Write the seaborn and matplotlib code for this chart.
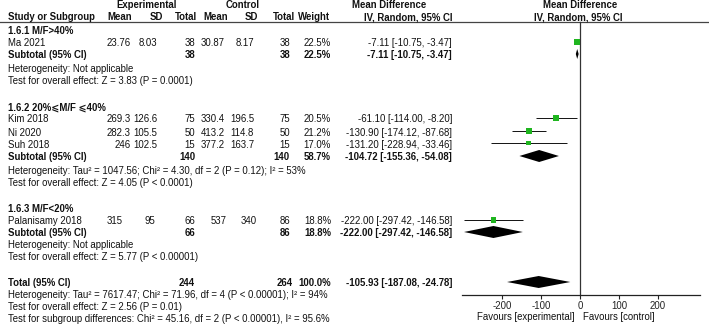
import matplotlib
matplotlib.use("Agg")
import matplotlib.pyplot as plt
import seaborn as sns
import pandas as pd

# ---- data ----
studies = ["Ma 2021", "Kim 2018", "Ni 2020", "Suh 2018", "Palanisamy 2018"]
groups = ["1.6.1 M/F>40%", "1.6.2 20%\u2a7dM/F \u2a7d40%", "1.6.3 M/F<20%"]
exp_mean = [23.76, 269.3, 282.3, 246, 315]
exp_sd = [8.03, 126.6, 105.5, 102.5, 95]
exp_n = [38, 75, 50, 15, 66]
ctl_mean = [30.87, 330.4, 413.2, 377.2, 537]
ctl_sd = [8.17, 196.5, 114.8, 163.7, 340]
ctl_n = [38, 75, 50, 15, 86]
weight = [22.5, 20.5, 21.2, 17.0, 18.8]
md = [-7.11, -61.10, -130.90, -131.20, -222.00]
md_lo = [-10.75, -114.00, -174.12, -228.94, -297.42]
md_hi = [-3.47, -8.20, -87.68, -33.46, -146.58]

sub_exp_n = [38, 140, 66]
sub_ctl_n = [38, 140, 86]
sub_weight = [22.5, 58.7, 18.8]
sub_md = [-7.11, -104.72, -222.00]
sub_lo = [-10.75, -155.36, -297.42]
sub_hi = [-3.47, -54.08, -146.58]
sub_het = ["Heterogeneity: Not applicable",
           "Heterogeneity: Tau\u00b2 = 1047.56; Chi\u00b2 = 4.30, df = 2 (P = 0.12); I\u00b2 = 53%",
           "Heterogeneity: Not applicable"]
sub_test = ["Test for overall effect: Z = 3.83 (P = 0.0001)",
            "Test for overall effect: Z = 4.05 (P < 0.0001)",
            "Test for overall effect: Z = 5.77 (P < 0.00001)"]

total_n = [244, 264]
total_md, total_lo, total_hi = -105.93, -187.08, -24.78
total_notes = ["Heterogeneity: Tau\u00b2 = 7617.47; Chi\u00b2 = 71.96, df = 4 (P < 0.00001); I\u00b2 = 94%",
               "Test for overall effect: Z = 2.56 (P = 0.01)",
               "Test for subgroup differences: Chi\u00b2 = 45.16, df = 2 (P < 0.00001), I\u00b2 = 95.6%"]
ticks = [-200, -100, 0, 100, 200]

# ---- layout (pixels) ----
W, H = 709, 328
fs = 6.9
fam = ["Liberation Sans", "DejaVu Sans"]
green = "#1fb51f"
group_y = [30, 107, 209]
study_y = [43, 119, 132, 144, 221]
sub_y = [55, 157, 233]
het_y = [68, 170, 245]
test_y = [81, 183, 257]
total_y = [283, 295, 307, 319]
cols = [131, 157, 195, 225, 254, 290, 331, 452]
pal_cols = [123, 155, 195, 227, 257, 290, 331, 452]
zero_px, px_per_unit, ax_l, ax_r = 580, 0.39, 462, 700

plt.rcParams["axes.unicode_minus"] = False
fig = plt.figure(figsize=(W / 100, H / 100), dpi=100)
ax = fig.add_axes([0, 0, 1, 1])
ax.set_xlim(0, W)
ax.set_ylim(H, 0)
ax.axis("off")


def txt(x, y, s, ha="left", bold=False):
    ax.text(x, y + 0.5, s, ha=ha, va="center", fontsize=fs, family=fam,
            fontweight="bold" if bold else "normal", color="#111111")


# headers
txt(147, 5, "Experimental", "center", True)
txt(243, 5, "Control", "center", True)
txt(389, 5, "Mean Difference", "center", True)
txt(580, 5, "Mean Difference", "center", True)
txt(8, 17, "Study or Subgroup", bold=True)
for x, s in zip([132, 163, 197, 228, 258, 295, 330],
                ["Mean", "SD", "Total", "Mean", "SD", "Total", "Weight"]):
    txt(x, 17, s, "right", True)
txt(452, 17, "IV, Random, 95% CI", "right", True)
txt(578, 17, "IV, Random, 95% CI", "center", True)
ax.plot([0, W], [22, 22], color="#444444", lw=0.9)

# study rows
for i, name in enumerate(studies):
    y = study_y[i]
    c = pal_cols if name == "Palanisamy 2018" else cols
    txt(8, y, name)
    vals = [exp_mean[i], exp_sd[i], exp_n[i], ctl_mean[i], ctl_sd[i], ctl_n[i],
            f"{weight[i]:.1f}%", f"{md[i]:.2f} [{md_lo[i]:.2f}, {md_hi[i]:.2f}]"]
    for x, v in zip(c, vals):
        txt(x, y, str(v), "right")

for g in range(3):
    txt(8, group_y[g], groups[g], bold=True)
    y = sub_y[g]
    txt(8, y, "Subtotal (95% CI)", bold=True)
    txt(cols[2], y, str(sub_exp_n[g]), "right", True)
    txt(cols[5], y, str(sub_ctl_n[g]), "right", True)
    txt(cols[6], y, f"{sub_weight[g]:.1f}%", "right", True)
    txt(cols[7], y, f"{sub_md[g]:.2f} [{sub_lo[g]:.2f}, {sub_hi[g]:.2f}]", "right", True)
    txt(8, het_y[g], sub_het[g])
    txt(8, test_y[g], sub_test[g])

txt(8, total_y[0], "Total (95% CI)", bold=True)
txt(cols[2], total_y[0], str(total_n[0]), "right", True)
txt(cols[5] + 3, total_y[0], str(total_n[1]), "right", True)
txt(cols[6], total_y[0], "100.0%", "right", True)
txt(cols[7], total_y[0], f"{total_md:.2f} [{total_lo:.2f}, {total_hi:.2f}]", "right", True)
for y, s in zip(total_y[1:], total_notes):
    txt(8, y, s)

# ---- forest panel ----
fx = fig.add_axes([ax_l / W, 0, (ax_r - ax_l) / W, 1])
fx.set_xlim((ax_l - zero_px) / px_per_unit, (ax_r - zero_px) / px_per_unit)
fx.set_ylim(H, 0)
fx.patch.set_alpha(0)
for s in ["left", "right", "top"]:
    fx.spines[s].set_visible(False)
fx.spines["bottom"].set_position(("data", 295))
fx.spines["bottom"].set_color("#222222")
fx.spines["bottom"].set_linewidth(0.9)
fx.set_yticks([])
fx.set_xticks(ticks)
fx.set_xticklabels([str(t) for t in ticks], fontsize=fs, family=fam)
fx.tick_params(axis="x", direction="out", length=3, width=0.8, pad=1, colors="#222222")

fx.plot([0, 0], [22, 295], color="#333333", lw=0.9)

df = pd.DataFrame({"md": md, "y": [y - 1 for y in study_y], "w": weight,
                   "lo": md_lo, "hi": md_hi})
fx.hlines(df["y"], df["lo"], df["hi"], color="#111111", lw=0.7)
sns.scatterplot(data=df, x="md", y="y", size="w", sizes=(12, 22), marker="s",
                color=green, linewidth=0, legend=False, ax=fx, zorder=3)


def diamond(est, lo, hi, y, h=6):
    fx.fill([lo, est, hi, est], [y, y - h, y, y + h], color="black", lw=0)


for g in range(3):
    diamond(sub_md[g], sub_lo[g], sub_hi[g], sub_y[g] - 1, 5 if g == 0 else 6)
diamond(total_md, total_lo, total_hi, total_y[0] - 1)
fx.set_xlabel("")
fx.set_ylabel("")

txt(575, 316, "Favours [experimental]", "right")
txt(583, 316, "Favours [control]")

fig.savefig("out.png", dpi=100)
